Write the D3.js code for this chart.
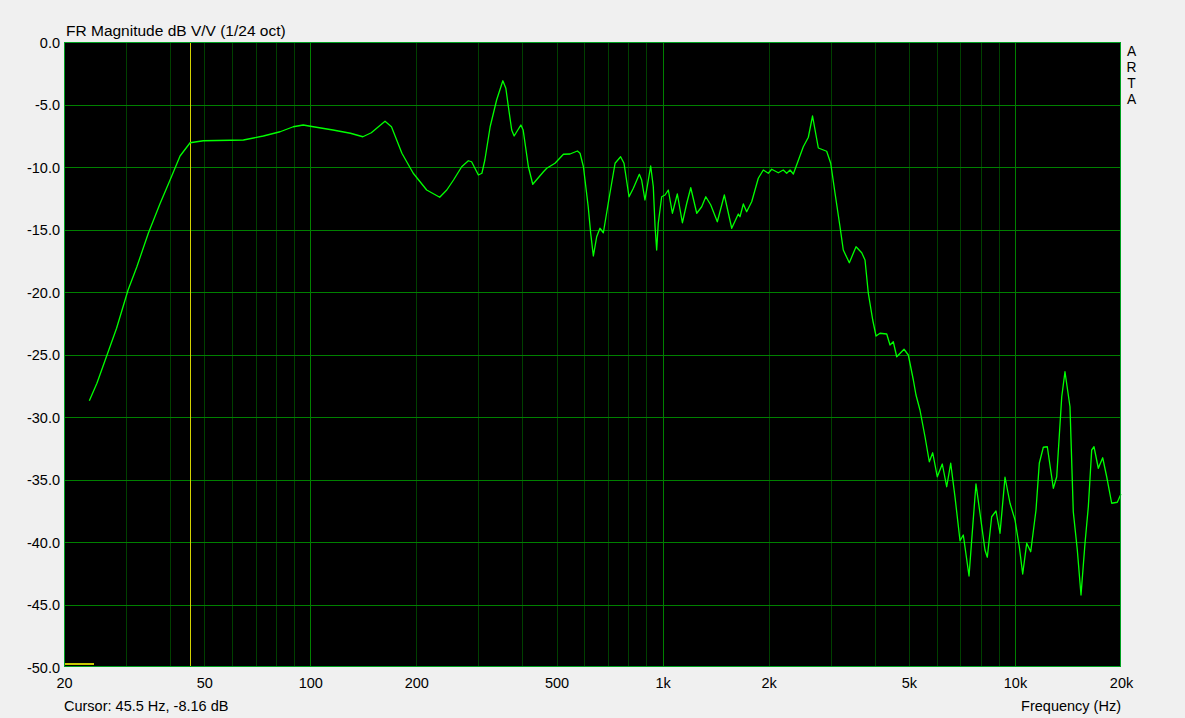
<!DOCTYPE html>
<html>
<head>
<meta charset="utf-8">
<script src="https://cdn.jsdelivr.net/npm/d3@7"></script>
<style>
  html, body { margin: 0; padding: 0; background: #f0f0f0; }
  svg { display: block; }
  text { font-family: Arial, "Liberation Sans", sans-serif; fill: #000; }
</style>
</head>
<body>
<svg id="chart" width="1185" height="718"></svg>
<script>
// ---- data ----
const freqHz = [23.6,24.8,26.6,28.2,30.4,32.2,34.7,37.5,40.0,42.7,45.6,49.7,64.6,73.6,82.1,89.5,95.5,102,116,130,141,149,163,170,182,196,214,233,244,255,269,281,287,300,307,313,324,338,352,359,365,373,379,396,402,416,428,459,469,495,523,546,573,583,596,615,625,636,650,664,679,701,733,760,777,803,826,859,872,891,911,925,941,952,962,972,994,1016,1038,1066,1101,1138,1171,1202,1250,1291,1326,1370,1430,1497,1571,1640,1658,1695,1732,1790,1869,1931,1995,2040,2130,2200,2250,2300,2350,2508,2592,2664,2767,2922,3000,3086,3188,3257,3388,3540,3674,3754,3836,3948,4034,4140,4326,4420,4516,4618,4844,4982,5148,5238,5376,5556,5714,5842,6020,6220,6402,6572,6758,6984,7136,7408,7588,7752,7958,8222,8348,8590,8836,9070,9372,9684,10006,10290,10520,10800,11086,11476,11726,12038,12356,12852,13140,13578,13868,14330,14642,15032,15400,15808,16154,16514,16764,17244,17744,18214,18820,19522,20000];
const magDb = [-28.70,-27.30,-24.90,-22.90,-19.84,-17.98,-15.30,-12.90,-11.04,-9.12,-8.06,-7.90,-7.84,-7.52,-7.18,-6.78,-6.64,-6.78,-7.04,-7.30,-7.58,-7.26,-6.34,-6.78,-8.90,-10.50,-11.84,-12.42,-11.84,-11.04,-9.98,-9.50,-9.58,-10.64,-10.50,-9.44,-6.78,-4.64,-3.10,-3.70,-5.18,-7.04,-7.52,-6.64,-7.04,-9.98,-11.38,-10.38,-10.10,-9.70,-8.98,-8.96,-8.72,-8.90,-9.98,-13.18,-15.30,-17.12,-15.58,-14.90,-15.26,-12.90,-9.70,-9.18,-9.70,-12.38,-11.70,-10.58,-11.04,-12.64,-11.04,-9.92,-11.58,-14.78,-16.64,-14.50,-12.38,-12.24,-11.84,-13.70,-12.16,-14.46,-12.90,-11.66,-13.70,-13.18,-12.38,-13.04,-14.38,-12.24,-14.90,-13.76,-13.98,-12.96,-13.58,-12.78,-10.90,-10.24,-10.50,-10.18,-10.46,-10.24,-10.50,-10.24,-10.56,-8.38,-7.62,-5.92,-8.48,-8.74,-9.70,-12.10,-14.78,-16.64,-17.66,-16.38,-16.86,-17.44,-20.10,-22.24,-23.52,-23.30,-23.36,-24.24,-23.98,-25.18,-24.58,-25.04,-27.04,-28.24,-29.44,-31.58,-33.58,-32.86,-34.78,-33.76,-35.58,-33.70,-36.38,-39.90,-39.44,-42.72,-38.78,-35.36,-37.70,-40.64,-41.22,-37.98,-37.52,-39.30,-34.82,-36.90,-38.24,-40.38,-42.56,-40.10,-40.78,-37.44,-33.70,-32.42,-32.38,-35.70,-34.78,-28.38,-26.38,-29.18,-37.58,-40.64,-44.24,-40.10,-37.18,-32.64,-32.38,-34.10,-33.26,-34.78,-36.90,-36.82,-36.16];
const xTickValues = [20,50,100,200,500,1000,2000,5000,10000,20000];
const xTickLabels = ["20","50","100","200","500","1k","2k","5k","10k","20k"];
const yTickValues = [0,-5,-10,-15,-20,-25,-30,-35,-40,-45,-50];
const minorFreqs = [30,40,50,60,70,80,90,200,300,400,500,600,700,800,900,2000,3000,4000,5000,6000,7000,8000,9000];
const majorFreqs = [100,1000,10000];
const cursorFreq = 45.5;
const cursorDb = -8.16;
const titleText = "FR Magnitude dB V/V (1/24 oct)";
const xAxisTitle = "Frequency (Hz)";
const brand = ["A","R","T","A"];

// ---- layout ----
const L = 64, R = 1121, T = 42, B = 667;
const svg = d3.select("#chart");
const x = d3.scaleLog().domain([20, 20000]).range([L, R]);
const y = d3.scaleLinear().domain([-50, 0]).range([B, T]);
const px = v => Math.round(v) + 0.5;

svg.append("rect").attr("x", 0).attr("y", 0).attr("width", 1185).attr("height", 718).attr("fill", "#f0f0f0");
svg.append("rect").attr("x", L).attr("y", T).attr("width", R - L).attr("height", B - T).attr("fill", "#000");

const grid = svg.append("g").attr("shape-rendering", "crispEdges");
grid.selectAll(".minor").data(minorFreqs).join("line")
  .attr("x1", d => px(x(d))).attr("x2", d => px(x(d)))
  .attr("y1", T).attr("y2", B)
  .attr("stroke", "#004000").attr("stroke-width", 1);
grid.selectAll(".major").data(majorFreqs).join("line")
  .attr("x1", d => px(x(d))).attr("x2", d => px(x(d)))
  .attr("y1", T).attr("y2", B)
  .attr("stroke", "#008000").attr("stroke-width", 1);
grid.selectAll(".hline").data(yTickValues.filter(v => v !== 0 && v !== -50)).join("line")
  .attr("x1", L).attr("x2", R)
  .attr("y1", d => px(y(d))).attr("y2", d => px(y(d)))
  .attr("stroke", "#008000").attr("stroke-width", 1);

// cursor
svg.append("line")
  .attr("x1", px(x(cursorFreq))).attr("x2", px(x(cursorFreq)))
  .attr("y1", T).attr("y2", B)
  .attr("stroke", "#d2d200").attr("stroke-width", 1).attr("shape-rendering", "crispEdges");
svg.append("line")
  .attr("x1", L + 1).attr("x2", x(24.4))
  .attr("y1", B - 3).attr("y2", B - 3)
  .attr("stroke", "#c8c800").attr("stroke-width", 2).attr("shape-rendering", "crispEdges");

// curve
const pts = freqHz.map((f, i) => [f, magDb[i]]);
const line = d3.line().x(d => x(d[0])).y(d => y(d[1]));
svg.append("path").datum(pts)
  .attr("d", line)
  .attr("fill", "none").attr("stroke", "#00ff00").attr("stroke-width", 1.3)
  .attr("stroke-linejoin", "round");

// border
svg.append("rect").attr("x", L + 0.5).attr("y", T + 0.5).attr("width", R - L - 1).attr("height", B - T - 1)
  .attr("fill", "none").attr("stroke", "#00a020").attr("stroke-width", 1).attr("shape-rendering", "crispEdges");

// axes
const xAxis = d3.axisBottom(x).tickValues(xTickValues).tickFormat((d, i) => xTickLabels[i]).tickSize(0).tickPadding(0);
const gx = svg.append("g").attr("transform", `translate(0,${B})`).call(xAxis);
gx.select(".domain").remove();
gx.selectAll("text").attr("dy", null).attr("y", 21).attr("font-size", "14.5px")
  .attr("font-family", "Arial, 'Liberation Sans', sans-serif").attr("fill", "#000");

const yAxis = d3.axisLeft(y).tickValues(yTickValues).tickFormat(d => d.toFixed(1)).tickSize(0).tickPadding(0);
const gy = svg.append("g").attr("transform", `translate(${L - 4},0)`).call(yAxis);
gy.select(".domain").remove();
gy.selectAll("text").attr("dy", null).attr("y", 5.3).attr("font-size", "14.5px")
  .attr("font-family", "Arial, 'Liberation Sans', sans-serif").attr("fill", "#000");

// texts
svg.append("text").attr("x", 66).attr("y", 36).attr("font-size", "15.5px").text(titleText);
svg.append("text").attr("x", 64).attr("y", 711).attr("font-size", "14.5px")
  .text(`Cursor: ${cursorFreq} Hz, ${cursorDb.toFixed(2)} dB`);
svg.append("text").attr("x", R).attr("y", 711).attr("text-anchor", "end").attr("font-size", "14.5px").text(xAxisTitle);
svg.selectAll(".brand").data(brand).join("text")
  .attr("class", "brand")
  .attr("x", 1131.5).attr("y", (d, i) => 56.3 + i * 16)
  .attr("text-anchor", "middle").attr("font-size", "13.8px").text(d => d);
</script>
</body>
</html>
